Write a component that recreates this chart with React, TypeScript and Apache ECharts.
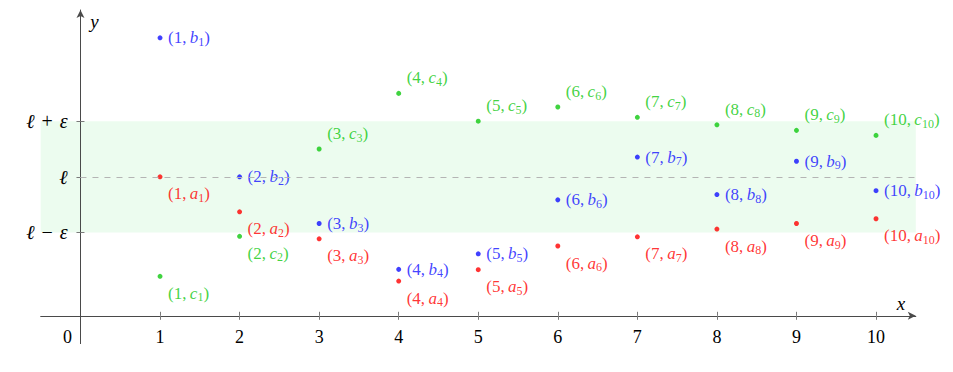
import React, { useEffect, useRef } from 'react';
import * as echarts from 'echarts';

// ---- data ----
const xValues = [1, 2, 3, 4, 5, 6, 7, 8, 9, 10];
const aValues = [2.5, 1.87, 1.385, 0.625, 0.83, 1.255, 1.42, 1.56, 1.66, 1.745];
const bValues = [5.0, 2.5, 1.66, 0.835, 1.115, 2.085, 2.855, 2.18, 2.78, 2.25];
const cValues = [0.71, 1.43, 3.0, 4.0, 3.5, 3.755, 3.57, 3.435, 3.335, 3.245];
const ELL = 2.5;
const EPS = 1;
const xTickValues = [1, 2, 3, 4, 5, 6, 7, 8, 9, 10];
const xLabelValues = [0, 1, 2, 3, 4, 5, 6, 7, 8, 9, 10];
const yTickValues = [ELL - EPS, ELL, ELL + EPS];
const yTickLabels = ['{l|ℓ}{n| − }{i|ε}', '{l|ℓ}', '{l|ℓ}{n| + }{i|ε}'];

const FONT = "'Liberation Serif', 'DejaVu Serif', serif";
const RED = '#ff0000';
const BLUE = '#1010ff';
const GREEN = '#10c810';

function richFor(color: string) {
  return {
    p: { fontFamily: FONT, fontSize: 17, lineHeight: 20, color },
    i: { fontFamily: FONT, fontSize: 17, lineHeight: 20, fontStyle: 'italic', color },
    s: { fontFamily: FONT, fontSize: 12, lineHeight: 12, verticalAlign: 'bottom', color },
  };
}

const POS_RIGHT = [10.5, 2.5];
const POS_BELOW = [10.5, 19.5];
const POS_ABOVE = [10.5, -13];

function makeSeries(name: string, values: number[], color: string, posFn: (v: number) => number[]) {
  return {
    type: 'scatter',
    name,
    xAxisIndex: 0,
    yAxisIndex: 0,
    z: 4,
    symbol: 'circle',
    symbolSize: 5,
    itemStyle: { color },
    data: xValues.map((x, i) => ({
      value: [x, values[i]],
      label: { position: posFn(values[i]) },
    })),
    label: {
      show: true,
      align: 'left',
      verticalAlign: 'middle',
      color,
      fontFamily: FONT,
      formatter: (p: any) => `{p|(${p.value[0]},\u2009}{i|${name}}{s|${p.value[0]}}{p|)}`,
      rich: richFor(color),
    },
    emphasis: { disabled: true },
  };
}

export default function App() {
  const ref = useRef<HTMLDivElement>(null);
  useEffect(() => {
    if (!ref.current) return;
    const chart = echarts.init(ref.current, undefined, { renderer: 'svg' });
    const axisColor = '#4a4a4a';
    const tickColor = '#7a7a7a';
    const option: any = {
      animation: false,
      backgroundColor: '#ffffff',
      textStyle: { fontFamily: FONT },
      grid: { left: 40.7, right: 37.2, top: 10, bottom: 28.4, outerBoundsMode: 'none', containLabel: false },
      xAxis: [
        {
          type: 'value',
          position: 'bottom',
          min: -0.5,
          max: 10.5,
          z: 3,
          name: 'x',
          nameLocation: 'end',
          nameGap: -19,
          nameTextStyle: {
            fontFamily: FONT,
            fontStyle: 'italic',
            fontSize: 19,
            color: '#000',
            verticalAlign: 'bottom',
            lineHeight: 20,
            padding: [0, 0, 2, 0],
          },
          axisLine: {
            show: true,
            onZero: true,
            onZeroAxisIndex: 0,
            symbol: ['none', 'arrow'],
            symbolSize: [6, 8],
            lineStyle: { color: axisColor, width: 1 },
          },
          axisTick: { show: true, customValues: xTickValues, length: 4, lineStyle: { color: tickColor } },
          axisLabel: {
            show: true,
            customValues: xLabelValues,
            margin: -16,
            color: '#000',
            fontFamily: FONT,
            fontSize: 18,
            formatter: (v: number) => (v === 0 ? '{z|0}' : String(v)),
            rich: { z: { fontFamily: FONT, fontSize: 18, color: '#000', padding: [0, 26, 0, 0] } },
          },
          splitLine: { show: false },
        },
        {
          type: 'value',
          position: 'top',
          min: -0.5,
          max: 10.5,
          z: 3,
          axisLine: { show: false, onZero: true, onZeroAxisIndex: 1 },
          axisTick: { show: true, customValues: xTickValues, length: 4, lineStyle: { color: tickColor } },
          axisLabel: { show: false },
          splitLine: { show: false },
        },
      ],
      yAxis: [
        {
          type: 'value',
          position: 'left',
          min: -0.5,
          max: 5.5,
          z: 3,
          name: 'y',
          nameLocation: 'end',
          nameGap: -21,
          nameTextStyle: { fontFamily: FONT, fontStyle: 'italic', fontSize: 19, color: '#000', padding: [0, 0, 0, 28] },
          axisLine: {
            show: true,
            onZero: true,
            onZeroAxisIndex: 0,
            symbol: ['none', 'arrow'],
            symbolSize: [6, 8],
            lineStyle: { color: axisColor, width: 1 },
          },
          axisTick: { show: true, customValues: yTickValues, length: 4, lineStyle: { color: tickColor } },
          axisLabel: {
            show: true,
            customValues: yTickValues,
            margin: -27,
            formatter: (v: number) => {
              const idx = yTickValues.findIndex((t) => Math.abs(t - v) < 1e-9);
              return idx >= 0 ? yTickLabels[idx] : '';
            },
            rich: {
              l: { fontFamily: FONT, fontSize: 20, fontStyle: 'italic', color: '#000' },
              n: { fontFamily: FONT, fontSize: 20, color: '#000', padding: [0, 2, 0, 2] },
              i: { fontFamily: FONT, fontSize: 20, fontStyle: 'italic', color: '#000' },
            },
          },
          splitLine: { show: false },
        },
        {
          type: 'value',
          position: 'right',
          min: -0.5,
          max: 5.5,
          z: 3,
          axisLine: { show: false, onZero: true, onZeroAxisIndex: 1 },
          axisTick: { show: true, customValues: yTickValues, length: 4, lineStyle: { color: tickColor } },
          axisLabel: { show: false },
          splitLine: { show: false },
        },
      ],
      series: [
        {
          type: 'scatter',
          name: 'band',
          xAxisIndex: 0,
          yAxisIndex: 0,
          z: 1,
          data: [],
          silent: true,
          markArea: {
            silent: true,
            itemStyle: { color: '#ecfcef' },
            data: [[{ coord: [-0.5, ELL - EPS] }, { coord: [10.5, ELL + EPS] }]],
          },
          markLine: {
            silent: true,
            symbol: ['none', 'none'],
            label: { show: false },
            lineStyle: { color: '#b4b4b4', width: 1, type: [6, 6] },
            emphasis: { disabled: true },
            data: [[{ coord: [0, ELL] }, { coord: [10.5, ELL] }]],
          },
        },
        makeSeries('a', aValues, RED, () => POS_BELOW),
        makeSeries('b', bValues, BLUE, () => POS_RIGHT),
        makeSeries('c', cValues, GREEN, (v) => (v < ELL - EPS ? POS_BELOW : POS_ABOVE)),
      ],
    };
    chart.setOption(option);
    return () => chart.dispose();
  }, []);
  return (
    <div
      ref={ref}
      style={{ position: 'absolute', left: 0, top: 0, width: 953, height: 372, background: '#fff' }}
    />
  );
}
